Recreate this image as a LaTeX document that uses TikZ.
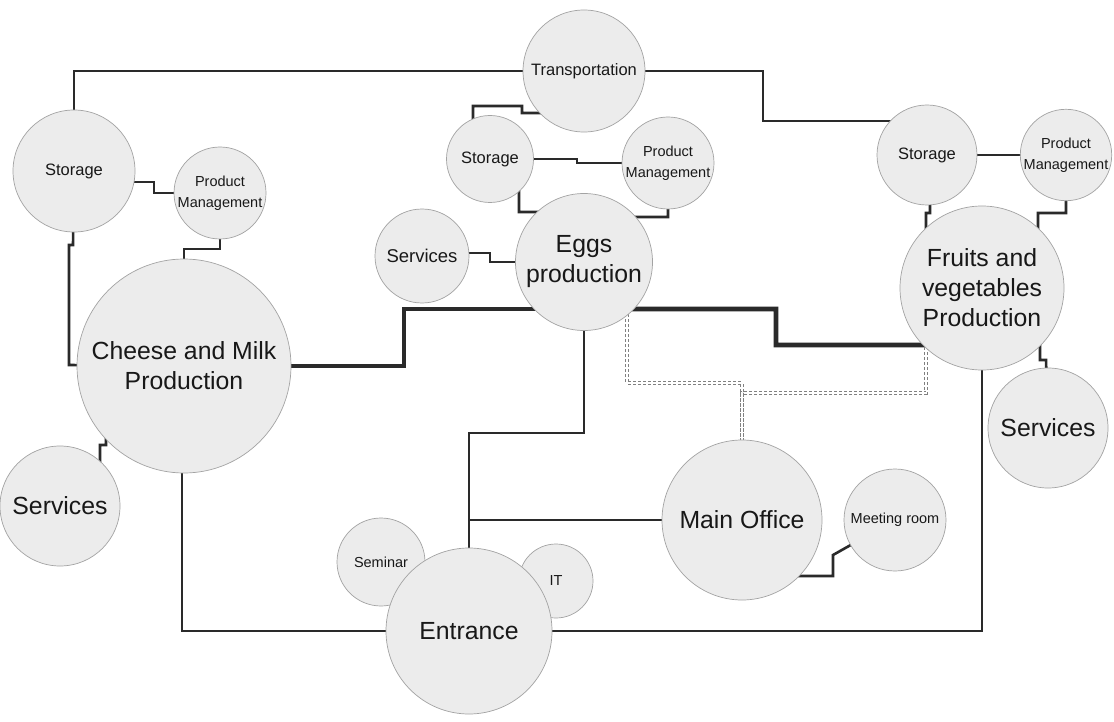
\documentclass[tikz,border=0pt]{standalone}
\usepackage{fontspec}
\setmainfont{Liberation Sans}
\pgfdeclarelayer{bg}
\pgfsetlayers{bg,main}
\definecolor{cfill}{HTML}{ECECEC}
\definecolor{cdraw}{HTML}{A3A3A3}
\definecolor{cline}{HTML}{2A2A2A}
\definecolor{ctext}{HTML}{181818}
\tikzset{
 room/.style={circle, fill=cfill, draw=cdraw, line width=0.7pt, inner sep=0pt, align=center, text=ctext},
 big/.style={room, font=\fontsize{24.8}{30}\selectfont},
 mid/.style={room, font=\fontsize{18.5}{22}\selectfont},
 med/.style={room, font=\fontsize{16.5}{20}\selectfont},
 small/.style={room, font=\fontsize{14.5}{21}\selectfont},
 link/.style={draw=cline, line width=2.6pt},
 mainlink/.style={draw=cline, line width=4.8pt},
 dlink/.style={draw=gray, dash pattern=on 3pt off 2pt, double=white, double distance=2pt, line width=0.9pt}
}
\begin{document}
\begin{tikzpicture}[x=1pt,y=-1pt]
\useasboundingbox (0,0) rectangle (1114,722);
% rooms
\node[med, minimum size=122pt] (tr) at (584,71) {Transportation};
\node[med, minimum size=122pt] (stl) at (74,171) {Storage};
\node[small, minimum size=92pt] (pml) at (220,193) {Product\\Management};
\node[big, minimum size=214pt] (chm) at (184,366) {Cheese and Milk\\Production};
\node[big, minimum size=120pt] (svl) at (60,506) {Services};
\node[med, minimum size=87pt] (stm) at (490,159) {Storage};
\node[small, minimum size=92pt] (pmm) at (668,163) {Product\\Management};
\node[mid, minimum size=94pt] (svm) at (422,256) {Services};
\node[big, minimum size=137pt] (egg) at (584,262) {Eggs\\production};
\node[med, minimum size=100pt] (str) at (927,155) {Storage};
\node[small, minimum size=91pt] (pmr) at (1066,155) {Product\\Management};
\node[big, minimum size=164pt] (frv) at (982,288) {Fruits and\\vegetables\\Production};
\node[big, minimum size=120pt] (svr) at (1048,428) {Services};
\node[big, minimum size=160pt] (mof) at (742,520) {Main Office};
\node[small, minimum size=102pt] (mtg) at (895,520) {Meeting room};
\node[small, minimum size=88pt] (sem) at (381,562) {Seminar};
\node[small, minimum size=74pt] (it) at (556,581) {IT};
\node[big, minimum size=166pt] (ent) at (469,631) {Entrance};
\coordinate (j) at (469,520);
\begin{pgfonlayer}{bg}
\fill[white] (0,0) rectangle (1114,722);
% connectors
\draw[link] (stl.center) -- (74,71) -- (tr.center);
\draw[link] (tr.center) -- (763,71) -- (763,121) -- (927,121) -- (str.center);
\draw[link] (stm.center) -- (473,159) -- (473,106) -- (522,106) -- (522,113) -- (560,113) -- (tr.center);
\draw[link] (stm.center) -- (577,159) -- (577,163) -- (pmm.center);
\draw[link] (stm.center) -- (519,159) -- (519,212) -- (560,212) -- (egg.center);
\draw[link] (pmm.center) -- (668,217) -- (610,217) -- (egg.center);
\draw[link] (svm.center) -- (422,253) -- (490,253) -- (490,262) -- (egg.center);
\draw[link] (stl.center) -- (74,182) -- (154,182) -- (154,193) -- (pml.center);
\draw[link] (pml.center) -- (220,249) -- (184,249) -- (chm.center);
\draw[link] (stl.center) -- (73,245) -- (69,245) -- (69,365) -- (chm.center);
\draw[link] (svl.center) -- (100,480) -- (100,445) -- (106,445) -- (106,420) -- (chm.center);
\draw[link] (chm.center) -- (182,366) -- (182,631) -- (ent.center);
\draw[mainlink] (chm.center) -- (404,366) -- (404,309) -- (584,309) -- (egg.center);
\draw[mainlink] (egg.center) -- (584,309) -- (776,309) -- (776,345) -- (935,345) -- (frv.center);
\draw[dlink] (egg.center) -- (627,262) -- (627,383) -- (742,383) -- (mof.center);
\draw[dlink] (frv.center) -- (926,288) -- (926,393) -- (742,393) -- (mof.center);
\draw[link] (egg.center) -- (584,433) -- (469,433) -- (ent.center);
\draw[link] (mof.center) -- (j);
\draw[link] (mof.center) -- (780,576) -- (833,576) -- (833,555) -- (mtg.center);
\draw[link] (ent.center) -- (982,631) -- (frv.center);
\draw[link] (str.center) -- (pmr.center);
\draw[link] (str.center) -- (930,155) -- (930,213) -- (926,213) -- (926,260) -- (frv.center);
\draw[link] (pmr.center) -- (1066,213) -- (1038,213) -- (1038,260) -- (frv.center);
\draw[link] (frv.center) -- (1040,330) -- (1040,360) -- (1046,360) -- (svr.center);
\end{pgfonlayer}
\end{tikzpicture}
\end{document}
